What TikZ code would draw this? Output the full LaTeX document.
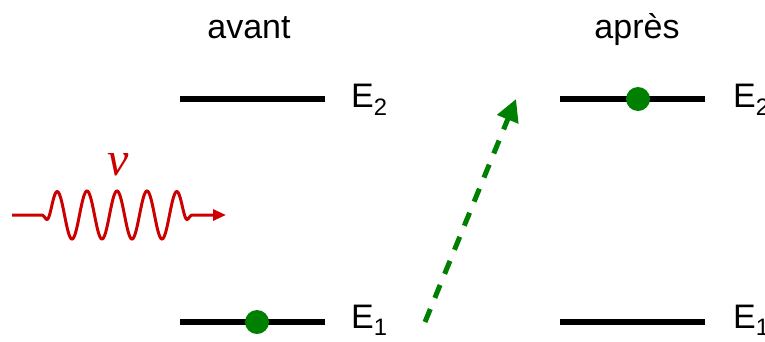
\documentclass[tikz,border=0pt]{standalone}
\usepackage{fontspec}
\setmainfont{Liberation Sans}
\newfontfamily\nufont{Liberation Serif}
\usetikzlibrary{arrows.meta}
\definecolor{lvlgreen}{RGB}{0,128,0}
\definecolor{wavered}{RGB}{204,0,0}
\begin{document}
\begin{tikzpicture}[x=1pt,y=-1pt,
  declare function={sq(\t)=((\t-117)/70)*((\t-117)/70);
                    qd(\t)=min(sq(\t)*sq(\t),3);
                    env(\t)=exp(-min(qd(\t)*qd(\t)*qd(\t)*qd(\t)*qd(\t)*qd(\t),12));},
  level/.style={line width=5.5pt},
  lbl/.style={anchor=base west,inner sep=0pt,font=\fontsize{34}{40}\selectfont},
  title/.style={anchor=base,inner sep=0pt,font=\fontsize{34}{40}\selectfont},
  electron/.style={circle,fill=lvlgreen,minimum size=24pt,inner sep=0pt},
  transition/.style={lvlgreen,line width=5pt,dash pattern=on 14pt off 12pt,-{Triangle[length=22pt,width=22pt]}},
  photon/.style={wavered,line width=3pt,-{Triangle[length=13pt,width=11pt]}}]
\useasboundingbox (0,0) rectangle (765,341);
% titles
\node[title] (avant) at (249,38) {avant};
\node[title] (apres) at (637,38) {après};
% left levels
\coordinate (L2a) at (180,99); \coordinate (L2b) at (325,99);
\coordinate (L1a) at (180,322); \coordinate (L1b) at (325,322);
\draw[level] (L2a) -- (L2b);
\draw[level] (L1a) -- (L1b);
\node[lbl] (E2l) at (351,107) {E\textsubscript{2}};
\node[lbl] (E1l) at (351,328) {E\textsubscript{1}};
\node[electron] (el) at (257,322) {};
% right levels
\coordinate (R2a) at (560,99); \coordinate (R2b) at (705,99);
\coordinate (R1a) at (560,322); \coordinate (R1b) at (705,322);
\draw[level] (R2a) -- (R2b);
\draw[level] (R1a) -- (R1b);
\node[lbl] (E2r) at (733,107) {E\textsubscript{2}};
\node[lbl] (E1r) at (733,328) {E\textsubscript{1}};
\node[electron] (er) at (638,99) {};
% transition arrow
\coordinate (tA) at (425,322);
\coordinate (tB) at (516,99);
\draw[transition] (tA) -- (tB);
% photon
\node[wavered,inner sep=0pt,anchor=base,font=\nufont\itshape\fontsize{48}{50}\selectfont] (nu) at (118,175) {ν};
\coordinate (wEnd) at (226,215);
\draw[photon] plot[domain=12:205,samples=300,smooth] (\x,{215 - 24*env(\x)*cos(12*(\x-117))}) -- (wEnd);
\end{tikzpicture}
\end{document}
